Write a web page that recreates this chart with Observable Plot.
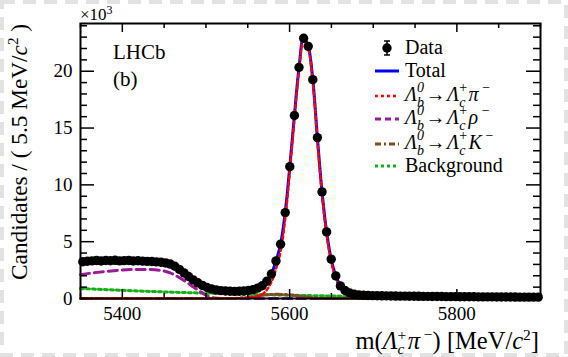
<!DOCTYPE html>
<html><head><meta charset="utf-8">
<script src="https://cdn.jsdelivr.net/npm/d3@7"></script>
<script src="https://cdn.jsdelivr.net/npm/@observablehq/plot@0.6"></script>
<style>
html,body{margin:0;padding:0;background:#fff;}
#chart{position:relative;width:568px;height:357px;}
</style></head><body><div id="chart"></div>
<script>
// ---- data ----
const binMass = [5352.75,5358.25,5363.75,5369.25,5374.75,5380.25,5385.75,5391.25,5396.75,5402.25,
5407.75,5413.25,5418.75,5424.25,5429.75,5435.25,5440.75,5446.25,5451.75,5457.25,
5462.75,5468.25,5473.75,5479.25,5484.75,5490.25,5495.75,5501.25,5506.75,5512.25,
5517.75,5523.25,5528.75,5534.25,5539.75,5545.25,5550.75,5556.25,5561.75,5567.25,
5572.75,5578.25,5583.75,5589.25,5594.75,5600.25,5605.75,5611.25,5616.75,5622.25,
5627.75,5633.25,5638.75,5644.25,5649.75,5655.25,5660.75,5666.25,5671.75,5677.25,
5682.75,5688.25,5693.75,5699.25,5704.75,5710.25,5715.75,5721.25,5726.75,5732.25,
5737.75,5743.25,5748.75,5754.25,5759.75,5765.25,5770.75,5776.25,5781.75,5787.25,
5792.75,5798.25,5803.75,5809.25,5814.75,5820.25,5825.75,5831.25,5836.75,5842.25,
5847.75,5853.25,5858.75,5864.25,5869.75,5875.25,5880.75,5886.25,5891.75,5897.25];

const dataCounts = [3230,3280,3310,3350,3300,3340,3320,3360,3310,3330,
3350,3300,3320,3290,3270,3260,3220,3190,3130,3030,
2840,2560,2250,1940,1640,1380,1150,970,840,750,
690,660,640,630,640,660,700,780,910,1120,
1520,2160,3310,4780,7560,11600,16100,20340,22900,22190,
19260,14160,9380,5860,3460,1990,1110,700,480,370,
310,280,262,250,240,236,228,222,214,210,
205,200,197,192,189,184,181,176,173,168,
166,162,159,155,152,150,147,144,142,139,
136,134,131,129,127,125,123,121,119,117];

const totalFit = [3260,3290,3310,3320,3330,3335,3335,3330,3325,3320,
3315,3310,3300,3290,3275,3255,3225,3180,3110,3000,
2830,2570,2250,1930,1630,1370,1150,970,840,750,
690,655,635,630,640,665,710,790,920,1140,
1530,2180,3300,4800,7550,11600,16100,20300,22950,22200,
19250,14150,9400,5850,3450,1990,1110,690,480,370,
310,280,262,250,241,234,227,221,215,210,
205,200,196,192,188,184,180,176,172,168,
165,162,158,155,152,150,147,144,141,139,
136,134,131,129,127,125,123,121,119,117];

const piSignal = [0,0,0,0,0,0,0,0,0,0,
0,0,0,0,0,0,0,0,0,0,
0,0,0,0,0,0,0,0,0,0,
2,4,8,12,20,35,60,110,200,380,
760,1450,2600,4150,7000,11250,15800,20050,22650,21950,
19000,13900,9150,5650,3250,1780,900,450,220,110,
55,25,12,5,2,0,0,0,0,0,
0,0,0,0,0,0,0,0,0,0,
0,0,0,0,0,0,0,0,0,0,
0,0,0,0,0,0,0,0,0,0];

const rhoMass   = [5350,5370,5390,5410,5430,5445,5458,5468,5478,5486,5494,5502,5510,5520,5600,5700,5800,5900];
const rhoCounts = [2100,2300,2450,2550,2560,2480,2230,1850,1380,960,560,210,40,0,0,0,0,0];

const kMass   = [5350,5450,5520,5540,5555,5565,5575,5585,5595,5605,5615,5625,5635,5650,5670,5800,5900];
const kCounts = [0,0,0,40,140,260,340,370,350,280,180,90,35,5,0,0,0];

const bkgMass   = [5350,5400,5450,5500,5550,5600,5650,5700,5750,5800,5850,5900];
const bkgCounts = [880,720,580,470,370,290,220,170,130,100,80,65];

const xMajor = [5400,5600,5800];
const xMinor = [5350,5450,5500,5550,5650,5700,5750,5850,5900];
const yMajor = [0,5000,10000,15000,20000];
const yMinor = [1000,2000,3000,4000,6000,7000,8000,9000,11000,12000,13000,14000,16000,17000,18000,19000,21000,22000,23000,24000];

// ---- tables ----
const hist = binMass.map((m,i)=>({m, n: dataCounts[i], tot: totalFit[i], pi: piSignal[i]}));
const rho = rhoMass.map((m,i)=>({m, v: rhoCounts[i]}));
const kk = kMass.map((m,i)=>({m, v: kCounts[i]}));
const bkg = bkgMass.map((m,i)=>({m, v: bkgCounts[i]}));

const W = 568, H = 357, mL = 80, mR = 28, mT = 23, mB = 59;
const fw = W - mL - mR, fh = H - mT - mB;
const FONT = "'Liberation Serif','Times New Roman',serif";

const COL = {tot:"#0000ff", pi:"#ff0000", rho:"#9a1a9a", k:"#7d4e24", bkg:"#14b014"};

const svg = Plot.plot({
  width: W, height: H,
  marginLeft: mL, marginRight: mR, marginTop: mT, marginBottom: mB,
  style: {fontFamily: FONT, fontSize: "19px", background: "#fff", color: "#000"},
  x: {domain: [5350, 5900]},
  y: {domain: [0, 24200]},
  marks: [
    Plot.line(bkg, {x:"m", y:"v", stroke: COL.bkg, strokeWidth: 3, strokeDasharray: "3,3", curve: "natural"}),
    Plot.line(rho, {x:"m", y:"v", stroke: COL.rho, strokeWidth: 3, strokeDasharray: "9,5", curve: "monotone-x"}),
    Plot.line(kk, {x:"m", y:"v", stroke: COL.k, strokeWidth: 3, strokeDasharray: "7,3,2,3", curve: "monotone-x"}),
    Plot.line(hist, {x:"m", y:"tot", stroke: COL.tot, strokeWidth: 3, curve: "catmull-rom"}),
    Plot.line(hist, {x:"m", y:"pi", stroke: COL.pi, strokeWidth: 2.5, strokeDasharray: "3,3", curve: "catmull-rom"}),
    Plot.dot(hist, {x:"m", y:"n", r: 4.7, fill: "#000"}),
    // ticks (ROOT style, inward, mirrored)
    Plot.tickX(xMajor, {x: d=>d, insetTop: fh - 9, strokeWidth: 1.5}),
    Plot.tickX(xMinor, {x: d=>d, insetTop: fh - 5, strokeWidth: 1.5}),
    Plot.tickX(xMajor, {x: d=>d, insetBottom: fh - 9, strokeWidth: 1.5}),
    Plot.tickX(xMinor, {x: d=>d, insetBottom: fh - 5, strokeWidth: 1.5}),
    Plot.tickY(yMajor, {y: d=>d, insetRight: fw - 14, strokeWidth: 1.5}),
    Plot.tickY(yMinor, {y: d=>d, insetRight: fw - 7, strokeWidth: 1.5}),
    Plot.tickY(yMajor, {y: d=>d, insetLeft: fw - 14, strokeWidth: 1.5}),
    Plot.tickY(yMinor, {y: d=>d, insetLeft: fw - 7, strokeWidth: 1.5}),
    Plot.axisX({ticks: xMajor, tickSize: 0, tickPadding: 8, tickFormat: d=>String(d), label: null, fontSize: 19}),
    Plot.axisY({ticks: yMajor, tickSize: 0, tickPadding: 8, tickFormat: d=>String(d/1000), label: null, fontSize: 19}),
    Plot.frame({stroke: "#000", strokeWidth: 2})
  ]
});
document.getElementById("chart").appendChild(svg);

const s = d3.select(svg);

// dashed border of the figure
s.append("rect").attr("x",2).attr("y",2).attr("width",W-4).attr("height",H-4)
  .attr("fill","none").attr("stroke","#e2e2e2").attr("stroke-width",4).attr("stroke-dasharray","13,8");

function rich(x, y, parts, opts = {}) {
  const t = s.append("text").attr("x", x).attr("y", y)
    .attr("font-family", FONT).attr("font-size", opts.size || 20).attr("fill", "#000")
    .attr("text-anchor", opts.anchor || "start");
  if (opts.transform) t.attr("transform", opts.transform);
  let cur = 0;
  for (const p of parts) {
    const sp = t.append("tspan").text(p.t);
    const sh = p.sh || 0;
    if (sh - cur !== 0) sp.attr("dy", sh - cur);
    cur = sh;
    if (p.dx) sp.attr("dx", p.dx);
    if (p.size) sp.attr("font-size", p.size);
    if (p.it) sp.attr("font-style", "italic");
  }
  return t;
}

// text labels
rich(113, 59, [{t:"LHCb"}], {size: 21});
rich(113, 86, [{t:"(b)"}], {size: 21});
rich(80, 20, [{t:"×10"}, {t:"3", size: 12, sh: -6}], {size: 17});

// axis titles
rich(539, 349, [
  {t:"m("}, {t:"Λ", it:1}, {t:"c", it:1, size:15.5, sh:5}, {t:"+", size:15.5, sh:-9.5, dx:-6.9},
  {t:"π", it:1, dx:1.5}, {t:" −", size:15.5, sh:-9.5}, {t:") [MeV/"}, {t:"c", it:1}, {t:"2", size:15.5, sh:-9.5}, {t:"]"}
], {anchor: "end", size: 24.5});

rich(0, 0, [
  {t:"Candidates / ( 5.5 MeV/"}, {t:"c", it:1}, {t:"2", size:15, sh:-9}, {t:" )"}
], {anchor: "end", size: 23.3, transform: "translate(27,24) rotate(-90)"});

// legend
const lx0 = 375, lx1 = 399, tx = 405;
const rows = [48, 71, 96, 119, 144, 166];
// Data marker
s.append("line").attr("x1",387).attr("x2",387).attr("y1",rows[0]-7).attr("y2",rows[0]+7).attr("stroke","#000").attr("stroke-width",1.5);
s.append("line").attr("x1",384).attr("x2",390).attr("y1",rows[0]-7).attr("y2",rows[0]-7).attr("stroke","#000").attr("stroke-width",1.5);
s.append("line").attr("x1",384).attr("x2",390).attr("y1",rows[0]+7).attr("y2",rows[0]+7).attr("stroke","#000").attr("stroke-width",1.5);
s.append("circle").attr("cx",387).attr("cy",rows[0]).attr("r",4.7).attr("fill","#000");
rich(tx, rows[0]+6, [{t:"Data"}]);

const legLines = [
  {c: COL.tot, d: null, w: 3},
  {c: COL.pi, d: "3,3", w: 2.5},
  {c: COL.rho, d: "6,4", w: 3},
  {c: COL.k, d: "6,3,2,3", w: 3},
  {c: COL.bkg, d: "3,3", w: 3}
];
legLines.forEach((L, i) => {
  const ln = s.append("line").attr("x1",lx0).attr("x2",lx1).attr("y1",rows[i+1]).attr("y2",rows[i+1])
    .attr("stroke",L.c).attr("stroke-width",L.w);
  if (L.d) ln.attr("stroke-dasharray", L.d);
});
rich(tx, rows[1]+6, [{t:"Total"}]);
function decay(y, last) {
  return rich(tx, y, [
    {t:"Λ", it:1}, {t:"b", it:1, size:14, sh:5.5}, {t:"0", it:1, size:14, sh:-9.5, dx:-7},
    {t:"→", dx:1.5}, {t:"Λ", it:1, dx:1.5}, {t:"c", it:1, size:14, sh:5.5}, {t:"+", size:14, sh:-9.5, dx:-6.2},
    {t:last, it:1, dx:1.5}, {t:" −", size:14, sh:-9.5}
  ]);
}
decay(rows[2]+5, "π");
decay(rows[3]+5, "ρ");
decay(rows[4]+5, "K");
rich(tx, rows[5]+6, [{t:"Background"}]);
</script></body></html>
